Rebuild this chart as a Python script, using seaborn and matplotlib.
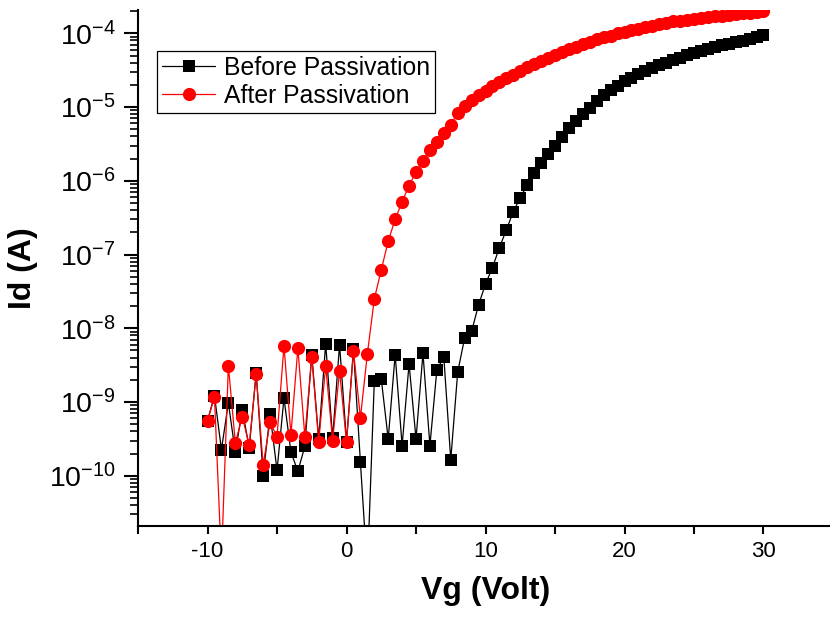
import matplotlib
matplotlib.use("Agg")
import matplotlib.pyplot as plt
import numpy as np
import pandas as pd
import seaborn as sns
from matplotlib.ticker import FixedLocator, LogLocator, MultipleLocator, NullFormatter

# gate voltage sweep, 0.5 V steps
vg = np.arange(-10, 30.01, 0.5)

# drain current before passivation (A)
id_before = [
    5.6e-10, 1.22e-9, 2.26e-10, 9.7e-10, 2.07e-10, 7.9e-10, 2.38e-10, 2.5e-9,
    1.0e-10, 6.9e-10, 1.18e-10, 1.13e-9, 2.1e-10, 1.15e-10, 2.5e-10, 4.4e-9,
    3.15e-10, 6.2e-9, 3.25e-10, 6.0e-9, 2.9e-10, 5.2e-9, 1.52e-10, 5e-12,
    1.94e-9, 2.05e-9, 3.15e-10, 4.4e-9, 2.56e-10, 3.3e-9, 3.15e-10, 4.6e-9,
    2.56e-10, 2.74e-9, 4.07e-9, 1.65e-10, 2.55e-9, 7.4e-9, 9.05e-9,
    2.08e-8, 3.97e-8, 6.67e-8, 1.24e-7, 2.16e-7, 3.83e-7, 5.9e-7, 8.8e-7,
    1.27e-6, 1.73e-6, 2.29e-6, 3.0e-6,
    3.98e-6, 5.25e-6, 6.46e-6, 7.94e-6, 9.77e-6, 1.20e-5, 1.48e-5, 1.70e-5,
    1.95e-5, 2.24e-5, 2.51e-5, 2.79e-5, 3.09e-5, 3.39e-5, 3.72e-5, 3.98e-5,
    4.32e-5, 4.68e-5, 5.01e-5, 5.37e-5, 5.75e-5, 6.17e-5, 6.53e-5, 6.92e-5,
    7.24e-5, 7.59e-5, 7.94e-5, 8.32e-5, 8.91e-5, 9.55e-5,
]

# drain current after passivation (A)
id_after = [
    5.6e-10, 1.17e-9, 7e-12, 3.1e-9, 2.8e-10, 6.3e-10, 2.6e-10, 2.4e-9,
    1.4e-10, 5.3e-10, 3.4e-10, 5.8e-9, 3.6e-10, 5.4e-9, 3.4e-10, 4.1e-9,
    2.9e-10, 3.1e-9, 3.0e-10, 2.65e-9, 2.85e-10, 4.95e-9, 6.1e-10, 4.5e-9,
    2.5e-8, 6.2e-8, 1.52e-7, 3.0e-7, 5.2e-7, 8.6e-7, 1.32e-6, 1.85e-6,
    2.62e-6, 3.4e-6,
    4.47e-6, 5.75e-6, 8.32e-6, 1.02e-5, 1.23e-5, 1.45e-5, 1.66e-5, 1.91e-5,
    2.19e-5, 2.45e-5, 2.75e-5, 3.09e-5, 3.47e-5, 3.80e-5, 4.27e-5, 4.68e-5,
    5.13e-5, 5.62e-5, 6.17e-5, 6.61e-5, 7.08e-5, 7.59e-5, 8.32e-5, 8.91e-5,
    9.33e-5, 1.00e-4, 1.05e-4, 1.10e-4, 1.15e-4, 1.20e-4, 1.26e-4, 1.32e-4,
    1.38e-4, 1.45e-4, 1.48e-4, 1.51e-4, 1.58e-4, 1.62e-4, 1.66e-4, 1.70e-4,
    1.74e-4, 1.78e-4, 1.82e-4, 1.86e-4, 1.91e-4, 1.95e-4, 2.00e-4,
]

series_names = ["Before Passivation", "After Passivation"]
y_decades = [1e-10, 1e-9, 1e-8, 1e-7, 1e-6, 1e-5, 1e-4]


def main():
    sns.set_style("ticks")
    plt.rcParams['font.family'] = ['Liberation Sans', 'DejaVu Sans']
    plt.rcParams['mathtext.fontset'] = 'custom'
    plt.rcParams['mathtext.rm'] = 'Liberation Sans'
    plt.rcParams['mathtext.it'] = 'Liberation Sans:italic'
    plt.rcParams['mathtext.bf'] = 'Liberation Sans:bold'
    plt.rcParams['axes.unicode_minus'] = False
    for key in ['text.color', 'axes.labelcolor', 'xtick.color', 'ytick.color', 'axes.edgecolor']:
        plt.rcParams[key] = 'black'

    df = pd.DataFrame({
        'Vg': np.concatenate([vg, vg]),
        'Id': np.concatenate([id_before, id_after]),
        'series': [series_names[0]] * len(vg) + [series_names[1]] * len(vg),
    })

    fig = plt.figure(figsize=(8.3, 6.19), dpi=100)
    ax = fig.add_axes([0.1663, 0.1507, 0.8373, 0.8331])
    ax.set_yscale('log')

    sns.lineplot(data=df[df.series == series_names[0]], x='Vg', y='Id', ax=ax,
                 color='black', marker='s', markersize=8, markeredgewidth=0,
                 linewidth=0.9, estimator=None, sort=False, label=series_names[0])
    sns.lineplot(data=df[df.series == series_names[1]], x='Vg', y='Id', ax=ax,
                 color='red', marker='o', markersize=9.5, markeredgewidth=0,
                 linewidth=0.9, estimator=None, sort=False, label=series_names[1])

    ax.set_xlim(-15, 35)
    ax.set_ylim(2.1e-11, 2.07e-4)

    ax.xaxis.set_major_locator(MultipleLocator(10))
    ax.xaxis.set_minor_locator(MultipleLocator(5))
    ax.yaxis.set_major_locator(FixedLocator(y_decades))
    ax.yaxis.set_minor_locator(LogLocator(base=10, subs=np.arange(2, 10), numticks=20))
    ax.yaxis.set_minor_formatter(NullFormatter())

    ax.tick_params(axis='y', which='major', length=10, width=1.5, labelsize=20.5, pad=6)
    ax.tick_params(axis='y', which='minor', length=5.5, width=1.2)
    ax.tick_params(axis='x', which='both', length=6, width=1.5, labelsize=16, pad=5)

    for side in ['top', 'right']:
        ax.spines[side].set_visible(False)
    for side in ['left', 'bottom']:
        ax.spines[side].set_linewidth(1.5)

    ax.set_xlabel('Vg (Volt)', fontsize=23, fontweight='bold', labelpad=10)
    ax.set_ylabel('Id (A)', fontsize=23, fontweight='bold', labelpad=8)

    leg = ax.legend(loc='upper left', bbox_to_anchor=(157 / 830, 1 - 51 / 619),
                    bbox_transform=fig.transFigure, borderaxespad=0,
                    fontsize=17.8, frameon=True, fancybox=False, framealpha=1,
                    edgecolor='black', handlelength=2.15, handletextpad=0.35,
                    labelspacing=0.15, borderpad=0.2)
    leg.get_frame().set_linewidth(0.9)

    fig.savefig('out.png', dpi=100)


if __name__ == "__main__":
    main()
